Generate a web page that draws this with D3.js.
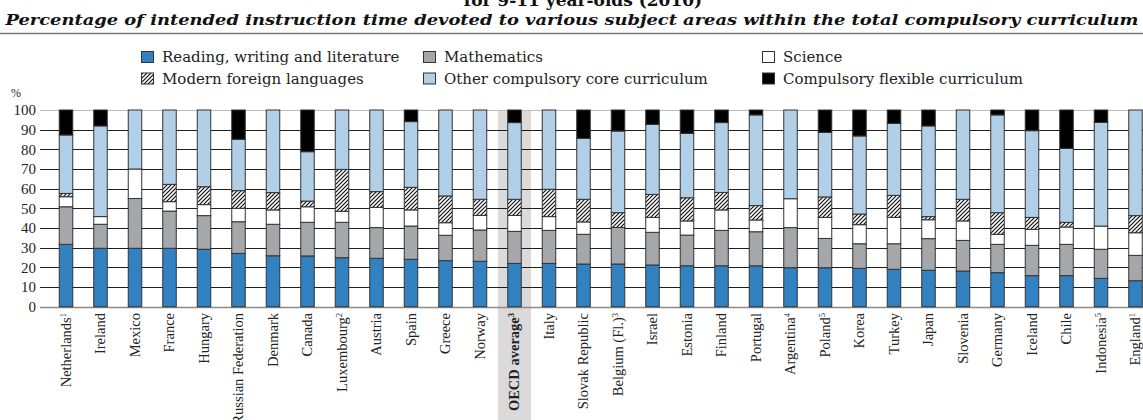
<!DOCTYPE html>
<html>
<head>
<meta charset="utf-8">
<script src="https://cdn.jsdelivr.net/npm/d3@7"></script>
<style>
  body { margin: 0; background: #fff; }
  svg { display: block; }
</style>
</head>
<body>
<div id="chart"></div>
<script>
//chart data: countries and the share of each subject area (%)
var countries = ["Netherlands", "Ireland", "Mexico", "France", "Hungary", "Russian Federation", "Denmark",
  "Canada", "Luxembourg", "Austria", "Spain", "Greece", "Norway", "OECD average", "Italy", "Slovak Republic",
  "Belgium (Fl.)", "Israel", "Estonia", "Finland", "Portugal", "Argentina", "Poland", "Korea", "Turkey",
  "Japan", "Slovenia", "Germany", "Iceland", "Chile", "Indonesia", "England"];
var notes = ["1", "", "", "", "", "", "", "", "2", "", "", "", "", "3", "", "", "3", "", "", "", "", "4", "5",
  "", "", "", "", "", "", "", "5", "1"];

var reading   = [31.7, 29.7, 29.7, 29.7, 29.2, 27.1, 25.9, 25.8, 24.9, 24.6, 24.1, 23.4, 23.1, 22.0, 22.0, 21.7,
  21.7, 21.2, 20.8, 20.8, 20.8, 19.8, 19.8, 19.5, 19.0, 18.5, 18.1, 17.3, 15.8, 15.8, 14.4, 13.2];
var maths     = [19.1, 12.2, 25.3, 18.9, 17.1, 16.1, 16.0, 17.1, 18.0, 15.6, 16.9, 12.9, 15.9, 16.3, 16.8, 15.1,
  18.6, 16.6, 15.6, 18.0, 17.3, 20.4, 14.9, 12.5, 13.0, 16.1, 15.6, 14.4, 15.4, 15.9, 14.8, 12.9];
var science   = [5.1, 3.9, 15.0, 4.8, 5.6, 6.8, 7.3, 7.9, 5.6, 10.3, 8.2, 6.4, 7.4, 8.1, 7.0, 6.3,
  0.0, 7.6, 7.2, 10.4, 6.0, 14.7, 10.7, 9.7, 13.4, 9.6, 9.9, 5.1, 8.1, 8.8, 11.8, 11.5];
var languages = [1.7, 0.0, 0.0, 8.8, 9.1, 9.0, 8.8, 2.9, 21.3, 8.0, 11.5, 13.6, 8.2, 8.2, 13.9, 11.5,
  7.5, 11.7, 11.8, 8.9, 7.3, 0.0, 10.4, 5.4, 11.2, 1.6, 11.0, 11.0, 6.1, 2.4, 0.0, 8.7];
var otherCore = [29.7, 46.1, 30.0, 37.8, 39.0, 26.1, 42.0, 25.1, 30.2, 41.5, 33.4, 43.7, 45.4, 39.0, 40.3, 31.0,
  41.5, 35.6, 32.7, 35.5, 46.1, 45.1, 32.8, 39.7, 36.6, 46.1, 45.4, 49.7, 44.1, 37.6, 52.7, 53.7];
var flexible  = [12.7, 8.1, 0.0, 0.0, 0.0, 14.9, 0.0, 21.2, 0.0, 0.0, 5.9, 0.0, 0.0, 6.4, 0.0, 14.4,
  10.7, 7.3, 11.9, 6.4, 2.5, 0.0, 11.4, 13.2, 6.8, 8.1, 0.0, 2.5, 10.5, 19.5, 6.3, 0.0];

var seriesNames = ["Reading, writing and literature", "Mathematics", "Science",
  "Modern foreign languages", "Other compulsory core curriculum", "Compulsory flexible curriculum"];
var yTicks = [0, 10, 20, 30, 40, 50, 60, 70, 80, 90, 100];

//svg size
var svgWidth = 1143;
var svgHeight = 420;

var serif = "'Liberation Serif', 'Times New Roman', serif";
var wideSerif = "'DejaVu Serif', serif";

const svg = d3.select("#chart")
  .append("svg")
  .attr("width", svgWidth)
  .attr("height", svgHeight);

//hatch pattern for foreign languages
var defs = svg.append("defs");
defs.append("pattern")
  .attr("id", "hatch")
  .attr("patternUnits", "userSpaceOnUse")
  .attr("width", 4)
  .attr("height", 4)
  .call(p => p.append("rect").attr("width", 4).attr("height", 4).attr("fill", "#fff"))
  .append("path")
  .attr("d", "M-1,1 l2,-2 M0,4 l4,-4 M3,5 l2,-2")
  .attr("stroke", "#111")
  .attr("stroke-width", 1.2);

var fills = ["#3282c2", "#a6a7aa", "#ffffff", "url(#hatch)", "#b2cfe8", "#000000"];

//build stacking table
var table = countries.map(function(c, i) {
  return { country: c, note: notes[i], s0: reading[i], s1: maths[i], s2: science[i],
    s3: languages[i], s4: otherCore[i], s5: flexible[i] };
});
var keys = ["s0", "s1", "s2", "s3", "s4", "s5"];
var stacked = d3.stack().keys(keys)(table);

//scales
var xScale = d3.scalePoint()
  .domain(countries)
  .range([48.75, 1152.75])
  .padding(0.5);
var yScale = d3.scaleLinear()
  .domain([0, 100])
  .range([306.7, 110]);
var barWidth = 13.5;

//title (cut at top) and subtitle
svg.append("text")
  .attr("x", 583)
  .attr("y", 6)
  .attr("text-anchor", "middle")
  .attr("font-family", wideSerif)
  .attr("font-weight", "bold")
  .attr("font-size", 17)
  .attr("fill", "#111")
  .text("for 9-11 year-olds (2010)");

svg.append("text")
  .attr("x", 572)
  .attr("y", 25)
  .attr("text-anchor", "middle")
  .attr("font-family", wideSerif)
  .attr("font-style", "italic")
  .attr("font-weight", "bold")
  .attr("font-size", 15)
  .attr("textLength", 1133)
  .attr("lengthAdjust", "spacingAndGlyphs")
  .attr("fill", "#111")
  .text("Percentage of intended instruction time devoted to various subject areas within the total compulsory curriculum");

svg.append("line")
  .attr("x1", 0).attr("x2", svgWidth)
  .attr("y1", 33.5).attr("y2", 33.5)
  .attr("stroke", "#7a7a7a")
  .attr("stroke-width", 1.5);

//legend
var legendCols = [141, 423, 762];
var legend = svg.append("g");
seriesNames.forEach(function(name, i) {
  var lx = legendCols[i % 3];
  var ly = i < 3 ? 51 : 72.5;
  legend.append("rect")
    .attr("x", lx + 0.5).attr("y", ly + 0.5)
    .attr("width", 12).attr("height", 11)
    .attr("fill", fills[i])
    .attr("stroke", "#333")
    .attr("stroke-width", 1);
  legend.append("text")
    .attr("x", lx + 21)
    .attr("y", ly + 11)
    .attr("font-family", wideSerif)
    .attr("font-size", 15)
    .attr("fill", "#222")
    .text(name);
});

//grey band behind OECD average
svg.append("rect")
  .attr("x", xScale("OECD average") - 16.5)
  .attr("y", yScale(100))
  .attr("width", 33)
  .attr("height", svgHeight - yScale(100))
  .attr("fill", "#dadada");

//gridlines
var grid = svg.append("g");
grid.selectAll("line")
  .data(yTicks)
  .enter()
  .append("line")
  .attr("x1", 40)
  .attr("x2", svgWidth)
  .attr("y1", d => Math.round(yScale(d)) + 0.5)
  .attr("y2", d => Math.round(yScale(d)) + 0.5)
  .attr("stroke", d => d === 100 ? "#bdbdbd" : (d === 0 ? "#8a8a8a" : "#1e1e1e"))
  .attr("stroke-width", d => d === 0 ? 1.6 : 1);

//y axis labels
var leftAxis = d3.axisLeft(yScale).tickValues(yTicks).tickSize(0).tickPadding(0);
var yAxis = svg.append("g")
  .attr("transform", "translate(36, 0)")
  .call(leftAxis);
yAxis.select(".domain").remove();
yAxis.selectAll("text")
  .attr("font-family", serif)
  .attr("font-size", 15)
  .attr("fill", "#222");

svg.append("text")
  .attr("x", 16)
  .attr("y", 97)
  .attr("text-anchor", "middle")
  .attr("font-family", serif)
  .attr("font-size", 12)
  .attr("fill", "#222")
  .text("%");

//stacked bars
var barsGroup = svg.append("g");
stacked.forEach(function(layer, i) {
  barsGroup.append("g")
    .selectAll("rect")
    .data(layer.filter(d => d[1] - d[0] > 0))
    .enter()
    .append("rect")
    .attr("x", d => xScale(d.data.country) - barWidth / 2)
    .attr("y", d => yScale(d[1]))
    .attr("width", barWidth)
    .attr("height", d => yScale(d[0]) - yScale(d[1]))
    .attr("fill", fills[i])
    .attr("stroke", "#333")
    .attr("stroke-width", 1);
});

//country labels
var labels = svg.append("g")
  .selectAll("text")
  .data(table)
  .enter()
  .append("text")
  .attr("transform", d => `translate(${xScale(d.country)}, 313) rotate(-90)`)
  .attr("text-anchor", "end")
  .attr("dy", "0.33em")
  .attr("font-family", serif)
  .attr("font-size", 14.5)
  .attr("font-weight", d => d.country === "OECD average" ? "bold" : "normal")
  .attr("fill", "#222");
labels.append("tspan").text(d => d.country);
labels.filter(d => d.note !== "")
  .append("tspan")
  .attr("baseline-shift", "super")
  .attr("font-size", 8.5)
  .text(d => d.note);
</script>
</body>
</html>
